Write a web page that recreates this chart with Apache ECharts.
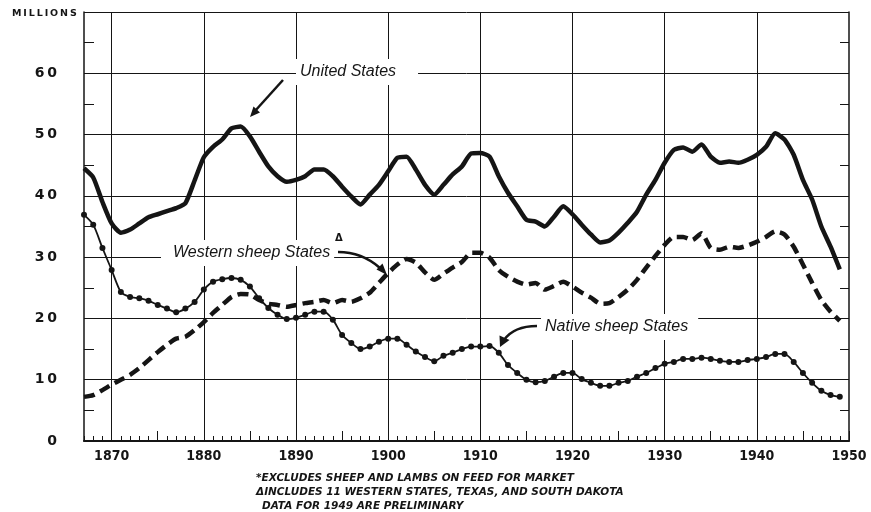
<!DOCTYPE html>
<html>
<head>
<meta charset="utf-8">
<script src="https://cdn.jsdelivr.net/npm/echarts@6/dist/echarts.min.js"></script>
<style>
  html, body { margin: 0; padding: 0; background: #fff; }
  #main { width: 871px; height: 512px; }
</style>
</head>
<body>
<div id="main"></div>
<script>
// years 1867 - 1949, millions of head
var firstYear = 1867;
var unitedStates = [44.5, 43, 39, 35.5, 34, 34.5, 35.5, 36.5, 37, 37.5, 38, 38.8, 42.5,
  46.3, 48, 49.2, 51, 51.3, 49.7, 47.2, 44.8, 43.2, 42.3,
  42.6, 43.2, 44.3, 44.3, 43.2, 41.5, 39.9, 38.6, 40.2, 41.8,
  44, 46.2, 46.4, 44.3, 41.8, 40.2, 41.8, 43.5, 44.8, 46.9,
  47, 46.4, 43.2, 40.5, 38.3, 36.1, 35.8, 35, 36.6, 38.3,
  37, 35.3, 33.7, 32.4, 32.7, 34, 35.6, 37.4, 40.2, 42.6,
  45.4, 47.5, 47.9, 47.2, 48.4, 46.4, 45.4, 45.6, 45.4, 45.9,
  46.7, 48, 50.2, 49.2, 46.7, 42.6, 39.4, 35, 31.7, 28];
var westernStates = [7.2, 7.5, 8.3, 9.2, 10, 10.8, 11.9, 13.2, 14.5, 15.7, 16.7, 17, 18.1,
  19.4, 20.9, 22.2, 23.5, 24, 23.9, 23, 22.4, 22.2, 21.9,
  22.2, 22.5, 22.7, 23, 22.5, 23, 22.7, 23.3, 24.2, 25.8,
  27.4, 28.8, 29.7, 29.1, 27.5, 26.3, 27.3, 28.3, 29.2, 30.7,
  30.7, 29.9, 27.9, 26.8, 26, 25.5, 25.8, 24.7, 25.3, 26,
  25.2, 24.2, 23.4, 22.4, 22.5, 23.5, 24.7, 26.3, 28.3, 30.2,
  32, 33.3, 33.3, 32.8, 33.9, 31.5, 31.2, 31.7, 31.5, 31.9,
  32.5, 33.3, 34.2, 33.7, 31.7, 28.8, 25.8, 23, 21.1, 19.6];
var nativeStates = [36.9, 35.3, 31.5, 27.9, 24.3, 23.5, 23.3, 22.9, 22.2, 21.6, 21, 21.6, 22.7,
  24.7, 26, 26.4, 26.6, 26.3, 25.2, 23.3, 21.7, 20.6, 19.9,
  20.1, 20.6, 21.1, 21.1, 19.8, 17.3, 16, 15, 15.4, 16.2,
  16.7, 16.7, 15.7, 14.6, 13.7, 13, 13.9, 14.4, 15, 15.4,
  15.4, 15.5, 14.4, 12.4, 11.1, 10, 9.6, 9.8, 10.5, 11.1,
  11.1, 10.1, 9.5, 9, 9, 9.5, 9.8, 10.5, 11.1, 11.9,
  12.6, 12.9, 13.4, 13.4, 13.6, 13.4, 13.1, 12.9, 12.9, 13.2,
  13.4, 13.7, 14.2, 14.2, 12.9, 11.1, 9.5, 8.2, 7.5, 7.2];
var decadeLines = [1870, 1880, 1890, 1900, 1910, 1920, 1930, 1940];
var fiveYearTicks = [1870, 1875, 1880, 1885, 1890, 1895, 1900, 1905, 1910, 1915,
  1920, 1925, 1930, 1935, 1940, 1945, 1950];

function pairs(arr) {
  return arr.map(function (v, i) { return [firstYear + i, v]; });
}

var ink = '#151515';
var condensed = '"DejaVu Sans Condensed", "Liberation Sans Narrow", "DejaVu Sans", sans-serif';
var italicFont = '"Liberation Sans", Arial, sans-serif';
var noteFont = 'italic bold 10.5px "DejaVu Sans", sans-serif';

var myChart = echarts.init(document.getElementById('main'));

var option = {
  backgroundColor: '#fff',
  animation: false,
  grid: { left: 84, right: 22, top: 12, bottom: 71 },
  xAxis: [{
    type: 'value', min: 1867, max: 1950, interval: 1,
    axisLine: { lineStyle: { color: ink, width: 2 } },
    axisTick: { inside: true, length: 5, lineStyle: { color: ink, width: 1 } },
    splitLine: { show: false },
    axisLabel: {
      margin: 8, color: ink, fontFamily: condensed, fontSize: 14, fontWeight: 'bold',
      formatter: function (v) { return v % 10 === 0 ? String(v) : ''; }
    }
  }, {
    type: 'value', min: 1867, max: 1950, position: 'bottom',
    axisLine: { show: false },
    axisTick: { inside: true, length: 10, customValues: fiveYearTicks, lineStyle: { color: ink, width: 1 } },
    axisLabel: { show: false },
    splitLine: { show: false }
  }],
  yAxis: [{
    type: 'value', min: 0, max: 70, interval: 10,
    axisLine: { show: true, lineStyle: { color: ink, width: 1.5 } },
    axisTick: { show: false, inside: true },
    minorTick: { show: true, splitNumber: 2, length: 10, lineStyle: { color: ink, width: 1 } },
    splitLine: { lineStyle: { color: ink, width: 1 } },
    axisLabel: {
      margin: 27, color: ink, fontFamily: '"DejaVu Sans", sans-serif', fontWeight: 'bold', fontSize: 14,
      formatter: function (v) { return v === 70 ? '' : String(v).split('').join('\u2009'); }
    }
  }, {
    type: 'value', min: 0, max: 70, interval: 10, position: 'right',
    axisLine: { show: true, lineStyle: { color: ink, width: 1.5 } },
    axisTick: { show: false, inside: true },
    minorTick: { show: true, splitNumber: 2, length: 9, lineStyle: { color: ink, width: 1 } },
    splitLine: { show: false },
    axisLabel: { show: false }
  }],
  series: [{
    name: 'United States', type: 'line', data: pairs(unitedStates),
    showSymbol: false, smooth: 0.2,
    lineStyle: { color: ink, width: 4.5 },
    markLine: {
      silent: true, symbol: 'none', label: { show: false },
      lineStyle: { color: ink, width: 1, type: 'solid' },
      data: decadeLines.map(function (y) { return { xAxis: y }; })
    }
  }, {
    name: 'Western sheep States', type: 'line', data: pairs(westernStates),
    showSymbol: false, smooth: 0.2,
    lineStyle: { color: ink, width: 4.5, type: [11, 6] }
  }, {
    name: 'Native sheep States', type: 'line', data: pairs(nativeStates),
    symbol: 'circle', symbolSize: 6, showAllSymbol: true, smooth: 0.25,
    itemStyle: { color: ink },
    lineStyle: { color: ink, width: 1.8 }
  }],
  graphic: [
    { type: 'text', left: 12, top: 9, z: 100,
      style: { text: 'MILLIONS'.split('').join('\u2009'), font: 'bold 9.5px "DejaVu Sans", sans-serif', fill: ink } },
    // annotations
    { type: 'text', x: 296, y: 72, z: 100,
      style: { text: 'United States', font: 'italic 16px ' + italicFont, fill: ink,
        verticalAlign: 'middle', backgroundColor: '#fff', padding: [5, 22, 5, 4] } },
    { type: 'line', z: 100, shape: { x1: 283, y1: 80, x2: 255, y2: 111 },
      style: { stroke: ink, lineWidth: 2.5 } },
    { type: 'polygon', z: 100, shape: { points: [[250, 117], [260, 112.5], [253.5, 106.5]] },
      style: { fill: ink } },

    { type: 'text', x: 161, y: 253, z: 100,
      style: { text: 'Western sheep States', font: 'italic 16px ' + italicFont, fill: ink,
        verticalAlign: 'middle', backgroundColor: '#fff', padding: [5, 4, 5, 12] } },
    { type: 'text', x: 335, y: 238, z: 100,
      style: { text: 'Δ', font: 'bold 10px "DejaVu Sans", sans-serif', fill: ink, verticalAlign: 'middle' } },
    { type: 'bezierCurve', z: 100, shape: { x1: 338, y1: 252, cpx1: 362, cpy1: 252, x2: 380, y2: 268 },
      style: { stroke: ink, lineWidth: 2.5, fill: null } },
    { type: 'polygon', z: 100, shape: { points: [[387, 275], [376.5, 269.5], [382.5, 263.5]] },
      style: { fill: ink } },

    { type: 'text', x: 541, y: 327, z: 100,
      style: { text: 'Native sheep States', font: 'italic 16px ' + italicFont, fill: ink,
        verticalAlign: 'middle', backgroundColor: '#fff', padding: [5, 10, 5, 4] } },
    { type: 'bezierCurve', z: 100, shape: { x1: 537, y1: 326, cpx1: 514, cpy1: 326, x2: 504, y2: 340 },
      style: { stroke: ink, lineWidth: 2.5, fill: null } },
    { type: 'polygon', z: 100, shape: { points: [[500, 347], [499.5, 335.5], [509.5, 340]] },
      style: { fill: ink } },

    // footnotes
    { type: 'text', x: 256, y: 478, z: 100,
      style: { text: '*EXCLUDES SHEEP AND LAMBS ON FEED FOR MARKET', font: noteFont,
        fill: ink, verticalAlign: 'middle' } },
    { type: 'text', x: 256, y: 492, z: 100,
      style: { text: 'ΔINCLUDES 11 WESTERN STATES, TEXAS, AND SOUTH DAKOTA', font: noteFont,
        fill: ink, verticalAlign: 'middle' } },
    { type: 'text', x: 262, y: 506, z: 100,
      style: { text: 'DATA FOR 1949 ARE PRELIMINARY', font: noteFont,
        fill: ink, verticalAlign: 'middle' } }
  ]
};

myChart.setOption(option);
</script>
</body>
</html>
